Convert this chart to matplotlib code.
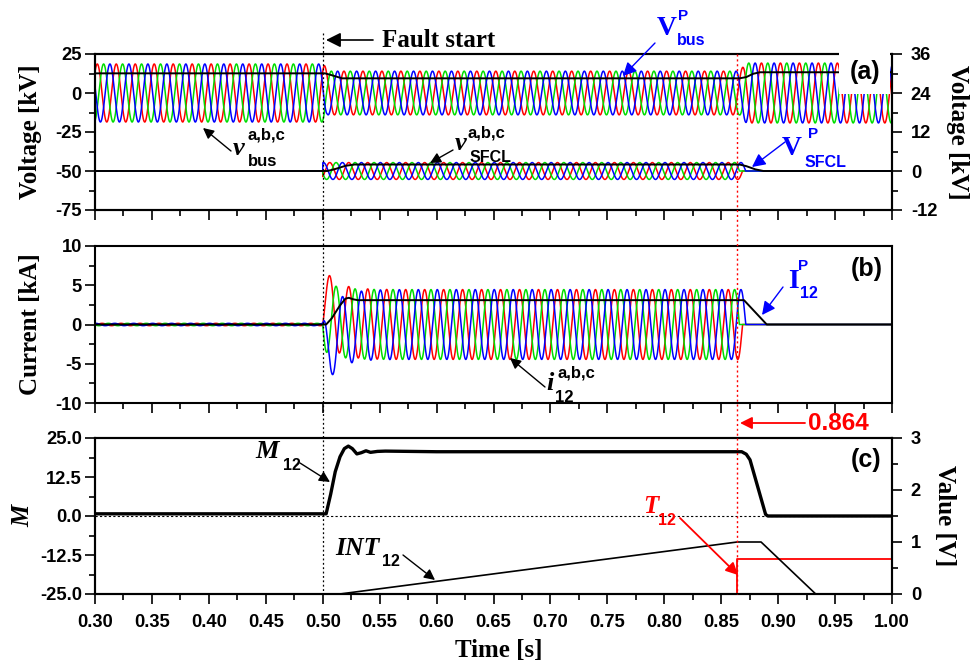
import numpy as np
import matplotlib
matplotlib.use('Agg')
import matplotlib.pyplot as plt
from matplotlib.ticker import MultipleLocator, FormatStrFormatter
from matplotlib.transforms import blended_transform_factory
from matplotlib.patches import FancyArrowPatch

plt.rcParams['axes.unicode_minus'] = False
plt.rcParams['font.family'] = 'Liberation Sans'

# ---------------- data ----------------
f_grid = 60.0          # Hz
t_fault = 0.500        # fault start [s]
t_trip = 0.864         # trip instant [s]
tau_dc = 0.011         # decay of the DC offset in the fault current [s]
t_vpeak = 0.302        # first peak of phase a bus voltage
t_ipeak = 0.5062       # first peak of phase a fault current

# bus phase voltages, peak envelope [kV]
bus_env_t = [0.300, 0.501, 0.504, 0.866, 0.872, 1.000]
bus_env_v = [18.6, 18.6, 14.0, 14.0, 19.2, 19.2]
# SFCL phase voltages, peak [kV] (right axis)
sfcl_amp = 2.6
# line currents, peak [kA]
i_pre_amp = 0.15
i_fault_amp = 4.45

# positive sequence bus voltage (left axis, kV)
vbus_p_t = [0.300, 0.502, 0.508, 0.517, 0.866, 0.872, 0.878, 0.884, 1.000]
vbus_p_v = [12.6, 12.6, 11.4, 9.4, 9.4, 10.2, 12.3, 13.3, 13.3]
# positive sequence SFCL voltage (right axis, kV)
vsfcl_p_t = [0.300, 0.504, 0.510, 0.520, 0.528, 0.866, 0.872, 0.880, 0.887, 1.000]
vsfcl_p_v = [0.0, 0.0, 0.5, 1.6, 2.0, 2.0, 1.5, 0.5, 0.0, 0.0]
# positive sequence current [kA]
i_p_t = [0.300, 0.503, 0.508, 0.515, 0.520, 0.523, 0.527, 0.531, 0.870, 0.890, 1.000]
i_p_v = [0.0, 0.0, 0.8, 2.4, 3.3, 3.4, 3.2, 3.1, 3.1, 0.0, 0.0]
# M12 (left axis)
m_t = [0.300, 0.503, 0.507, 0.511, 0.5152, 0.519, 0.5225, 0.526, 0.530, 0.534,
       0.538, 0.542, 0.548, 0.555, 0.600, 0.700, 0.800, 0.868, 0.872, 0.8753,
       0.889, 0.891, 1.000]
m_v = [0.7, 0.7, 7.0, 14.2, 19.0, 21.6, 22.4, 21.6, 19.9, 20.3,
       20.9, 20.4, 20.7, 20.8, 20.6, 20.6, 20.6, 20.6, 19.8, 18.0,
       0.5, 0.0, 0.0]
# INT12 and T12 (right axis, V)
int_t = [0.300, 0.515, 0.864, 0.885, 0.933, 1.000]
int_v = [0.0, 0.0, 1.0, 1.0, 0.0, 0.0]
t12_t = [0.300, 0.864, 0.864, 1.000]
t12_v = [0.0, 0.0, 0.68, 0.68]

phase_colors = ['#FF0000', '#00DD00', '#0000FF']
blue_txt = '#0000FF'

# ---------------- waveforms ----------------
t = np.arange(0.300, 1.0001, 1e-4)
w = 2 * np.pi * f_grid
shift = [0.0, 2 * np.pi / 3, 4 * np.pi / 3]
bus_env = np.interp(t, bus_env_t, bus_env_v)

v_bus, v_sfcl, i_line = [], [], []
for k in range(3):
    v_bus.append(bus_env * np.cos(w * (t - t_vpeak) - shift[k]))
    steady = np.cos(w * (t - t_ipeak) - shift[k])
    dc = -i_fault_amp * np.cos(w * (t_fault - t_ipeak) - shift[k]) * np.exp(-(t - t_fault) / tau_dc)
    i = np.where(t < t_fault, i_pre_amp * steady, i_fault_amp * steady + dc)
    v = np.where(t < t_fault, 0.0, sfcl_amp * steady)
    # each phase clears at its first current zero after the trip
    after = np.where((t > t_trip) & (np.sign(steady) != np.sign(np.roll(steady, 1))))[0]
    cut = t[after[0]] if len(after) else 1.0
    i[t >= cut] = 0.0
    v[t >= cut] = 0.0
    i_line.append(i)
    v_sfcl.append(v)

# ---------------- figure ----------------
W, H = 976, 668
fig = plt.figure(figsize=(W / 100, H / 100), dpi=100)
L, R = 95, 892


def box(top, bottom):
    return [L / W, 1 - bottom / H, (R - L) / W, (bottom - top) / H]


ax1 = fig.add_axes(box(54, 210))
ax2 = fig.add_axes(box(246, 403), sharex=ax1)
ax3 = fig.add_axes(box(438, 594), sharex=ax1)
ax1r = ax1.twinx()
ax3r = ax3.twinx()

label_font = dict(family='Liberation Serif', weight='bold', size=18)

for ax in [ax1, ax2, ax3, ax1r, ax3r]:
    for s in ax.spines.values():
        s.set_linewidth(1.5)
    ax.tick_params(which='major', direction='out', length=7.5, width=1.2)
    ax.tick_params(which='minor', direction='out', length=4, width=1.2)

# panel (a)
for k in range(3):
    ax1.plot(t, v_bus[k], color=phase_colors[k], lw=1.1)
    ax1r.plot(t, v_sfcl[k], color=phase_colors[k], lw=1.1)
ax1.plot(vbus_p_t, vbus_p_v, color='k', lw=1.4)
ax1r.plot(vsfcl_p_t, vsfcl_p_v, color='k', lw=1.4)
ax1.set_ylim(-75, 25)
ax1.yaxis.set_major_locator(MultipleLocator(25))
ax1.yaxis.set_minor_locator(MultipleLocator(12.5))
ax1r.set_ylim(-12, 36)
ax1r.yaxis.set_major_locator(MultipleLocator(12))
ax1r.yaxis.set_minor_locator(MultipleLocator(6))

# panel (b)
for k in range(3):
    ax2.plot(t, i_line[k], color=phase_colors[k], lw=1.1)
ax2.plot(i_p_t, i_p_v, color='k', lw=1.4)
ax2.set_ylim(-10, 10)
ax2.yaxis.set_major_locator(MultipleLocator(5))
ax2.yaxis.set_minor_locator(MultipleLocator(2.5))

# panel (c)
ax3.axhline(0, color='k', lw=0.8, ls=(0, (2, 2)))
ax3.plot(m_t, m_v, color='k', lw=2.4)
ax3r.plot(t12_t, t12_v, color='#FF0000', lw=1.3, clip_on=False)
ax3r.plot(int_t, int_v, color='k', lw=1.2)
ax3.set_ylim(-25, 25)
ax3.yaxis.set_major_locator(MultipleLocator(12.5))
ax3.yaxis.set_minor_locator(MultipleLocator(6.25))
ax3.yaxis.set_major_formatter(FormatStrFormatter('%.1f'))
ax3r.set_ylim(0, 3)
ax3r.yaxis.set_major_locator(MultipleLocator(1))
ax3r.yaxis.set_minor_locator(MultipleLocator(0.5))

ax1.set_xlim(0.30, 1.00)
ax1.xaxis.set_major_locator(MultipleLocator(0.05))
ax1.xaxis.set_minor_locator(MultipleLocator(0.025))
ax3.xaxis.set_major_formatter(FormatStrFormatter('%.2f'))
for ax in [ax1, ax2]:
    ax.tick_params(labelbottom=False)
for ax in [ax1, ax2, ax3]:
    ax.tick_params(axis='y', which='both', left=True, right=False, pad=2)
    ax.tick_params(axis='x', which='both', top=False, pad=7)
for ax in [ax1r, ax3r]:
    ax.tick_params(axis='y', pad=6)

for lab in (ax1.get_yticklabels() + ax2.get_yticklabels() + ax3.get_yticklabels() +
            ax1r.get_yticklabels() + ax3r.get_yticklabels() + ax3.get_xticklabels()):
    lab.set_fontweight('bold')
    lab.set_fontsize(13.2)

ax1.set_ylabel('Voltage [kV]', **label_font)
ax1.yaxis.set_label_coords(-0.066, 0.5)
ax2.set_ylabel('Current [kA]', **label_font)
ax2.yaxis.set_label_coords(-0.066, 0.5)
ax3.set_ylabel('M', family='Liberation Serif', weight='bold', style='italic', size=18)
ax3.yaxis.set_label_coords(-0.076, 0.5)
ax1r.set_ylabel('Voltage [kV]', rotation=270, va='bottom', **label_font)
ax1r.yaxis.set_label_coords(1.068, 0.5)
ax3r.set_ylabel('Value [V]', rotation=270, va='bottom', **label_font)
ax3r.yaxis.set_label_coords(1.052, 0.5)
ax3.set_xlabel('Time [s]', **label_font)
ax3.xaxis.set_label_coords(0.506, -0.29)

# vertical markers spanning the panels
trans = blended_transform_factory(ax3.transData, fig.transFigure)
fig.add_artist(plt.Line2D([t_fault, t_fault], [1 - 33 / H, 1 - 594 / H], transform=trans,
                          color='k', lw=0.9, ls=(0, (1.5, 2))))
fig.add_artist(plt.Line2D([t_trip, t_trip], [1 - 54 / H, 1 - 594 / H], transform=trans,
                          color='#FF0000', lw=1.0, ls=(0, (1.5, 2))))


# ---------------- annotations (pixel positions) ----------------
def put(px, py, s, size, color='k', family='Liberation Sans', style='normal', **kw):
    return fig.text(px / W, 1 - py / H, s, fontsize=size, color=color, family=family,
                    weight='bold', style=style, va=kw.pop('va', 'baseline'), **kw)


def arrow(p0, p1, color='k', scale=16, lw=1.0):
    fig.add_artist(FancyArrowPatch((p0[0] / W, 1 - p0[1] / H), (p1[0] / W, 1 - p1[1] / H),
                                   transform=fig.transFigure, arrowstyle='-|>',
                                   mutation_scale=scale, lw=lw, color=color,
                                   shrinkA=0, shrinkB=0))


serif = 'Liberation Serif'

put(382, 47, 'Fault start', 18, family=serif)
arrow((373, 40), (326, 40), lw=1.2, scale=22)

# (a)
put(657, 35, 'V', 20, color=blue_txt, family=serif)
put(678, 20, 'P', 11, color=blue_txt)
put(677, 45, 'bus', 11.5, color=blue_txt)
arrow((655, 43), (623, 76), color=blue_txt, scale=20)

put(233, 155, 'v', 19, family=serif, style='italic')
put(247, 140, 'a,b,c', 12)
put(248, 166, 'bus', 12)
arrow((231, 151), (203, 128))

put(455, 150, 'v', 19, family=serif, style='italic')
put(468, 137, 'a,b,c', 12)
put(470, 162, 'SFCL', 11.5)
arrow((453, 150), (430, 163))

put(782, 155, 'V', 20, color=blue_txt, family=serif)
put(808, 138, 'P', 11, color=blue_txt)
put(805, 167, 'SFCL', 11.5, color=blue_txt)
arrow((785, 142), (752, 167), color=blue_txt, scale=20)

ax1r.text(0.976, 30.6, '(a)', fontsize=18, weight='bold', ha='center', va='center', zorder=10,
          bbox=dict(boxstyle='square,pad=0.42', fc='white', ec='none'))

# (b)
ax2.text(0.978, 7.1, '(b)', fontsize=18, weight='bold', ha='center', va='center')
put(788, 288, 'I', 20, color=blue_txt, family=serif)
put(798, 270, 'P', 11, color=blue_txt)
put(800, 298, '12', 11.5, color=blue_txt)
arrow((783, 287), (762, 315), color=blue_txt, scale=20)

put(546, 390, 'i', 19, family=serif, style='italic')
put(557, 377, 'a,b,c', 12)
put(555, 402, '12', 12)
arrow((545, 387), (510, 358))

put(808, 430, '0.864', 17.5, color='#FF0000')
arrow((805, 423), (740, 423), color='#FF0000', lw=1.3, scale=18)

# (c)
ax3.text(0.977, 18.0, '(c)', fontsize=18, weight='bold', ha='center', va='center')
put(255, 458, 'M', 19, family=serif, style='italic')
put(283, 470, '12', 11.5)
arrow((300, 463), (330, 482))

put(335, 555, 'INT', 18.5, family=serif, style='italic')
put(382, 566, '12', 11.5)
arrow((403, 555), (435, 580))

put(643, 513, 'T', 18, color='#FF0000', family=serif, style='italic')
put(658, 525, '12', 11.5, color='#FF0000')
arrow((680, 518), (738, 575), color='#FF0000', lw=1.3, scale=18)

fig.savefig('out.png', dpi=100)
